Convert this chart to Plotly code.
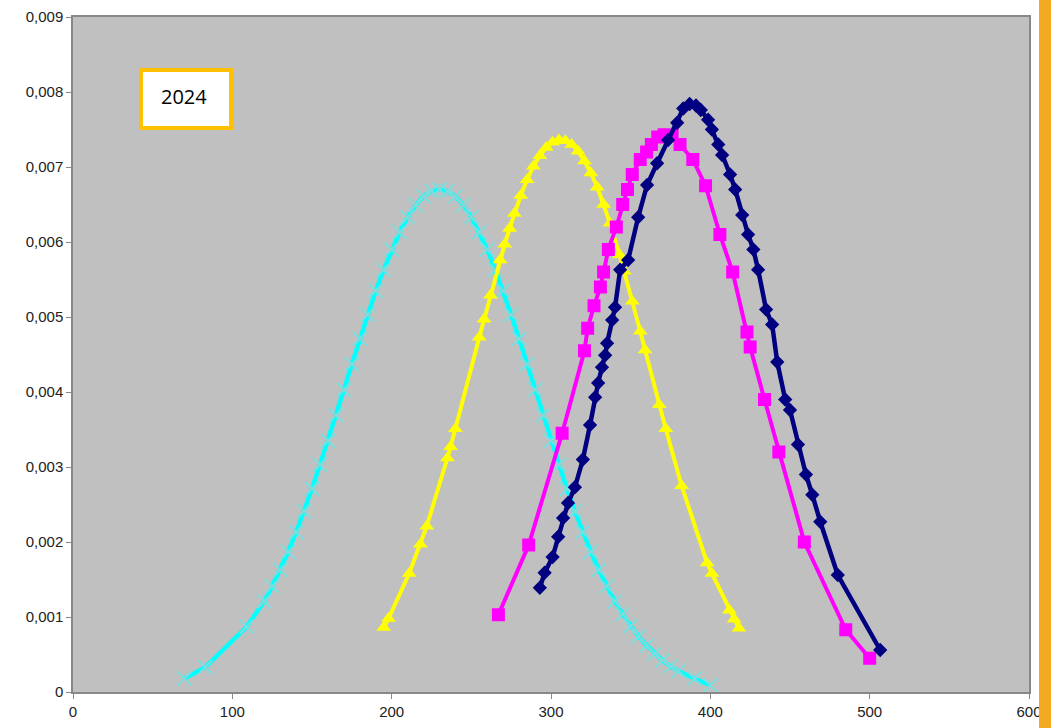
import plotly.graph_objects as go

# ---------------- data ----------------
cyan_x = [70, 83, 109, 120, 125, 130, 135, 140, 145, 150, 155, 160, 165, 170, 175, 180, 185,
          190, 195, 200, 205, 210, 215, 220, 225, 230, 235, 240, 245, 250, 255, 260, 265, 270,
          275, 280, 285, 290, 295, 300, 305, 310, 315, 320, 325, 330, 335, 340, 345, 350, 355,
          360, 365, 370, 375, 380, 390, 400]
cyan_y = [0.00018, 0.00033, 0.00087, 0.00121, 0.00141, 0.00163, 0.00187, 0.00213, 0.00241,
          0.00271, 0.00303, 0.00335, 0.00369, 0.00403, 0.00437, 0.00471, 0.00503, 0.00535,
          0.00563, 0.00590, 0.00613, 0.00633, 0.00649, 0.00661, 0.00668, 0.00670, 0.00668,
          0.00661, 0.00649, 0.00633, 0.00613, 0.00590, 0.00563, 0.00535, 0.00503, 0.00471,
          0.00437, 0.00403, 0.00369, 0.00335, 0.00303, 0.00271, 0.00241, 0.00213, 0.00187,
          0.00163, 0.00141, 0.00121, 0.00104, 0.00088, 0.00074, 0.00062, 0.00051, 0.00042,
          0.00034, 0.00028, 0.00018, 0.00009]

yellow_x = [195, 198, 211, 218, 222, 235, 237, 240, 255, 258, 262, 268, 271, 274, 277, 281,
            285, 289, 293, 297, 301, 305, 309, 313, 317, 321, 325, 329, 333, 337, 343, 346,
            351, 356, 359, 368, 372, 382, 398, 401, 412, 415, 418]
yellow_y = [0.00086, 0.00098, 0.00158, 0.00197, 0.00221, 0.00312, 0.00327, 0.00351, 0.00473,
            0.00497, 0.00529, 0.00576, 0.00597, 0.00618, 0.00638, 0.00662, 0.00683, 0.00701,
            0.00715, 0.00726, 0.00733, 0.00736, 0.00735, 0.00730, 0.00721, 0.00708, 0.00692,
            0.00673, 0.00650, 0.00625, 0.00583, 0.00561, 0.00521, 0.00481, 0.00456, 0.00383,
            0.00351, 0.00275, 0.00172, 0.00158, 0.00109, 0.00097, 0.00085]

magenta_x = [267, 286, 307, 321, 323, 327, 331, 333, 336, 341, 345, 348, 351, 356, 360, 363,
             367, 371, 376, 381, 389, 397, 406, 414, 423, 425, 434, 443, 459, 485, 500]
magenta_y = [0.00103, 0.00196, 0.00345, 0.00455, 0.00485, 0.00515, 0.00540, 0.00560, 0.00590,
             0.00620, 0.00650, 0.00670, 0.00690, 0.00710, 0.00720, 0.00730, 0.00740, 0.00743,
             0.00742, 0.00730, 0.00710, 0.00675, 0.00610, 0.00560, 0.00480, 0.00460, 0.00390,
             0.00320, 0.00200, 0.00083, 0.00045]

navy_x = [293, 296, 301, 304.5, 307.6, 310.7, 315, 320, 324.5, 327.7, 329.6, 332, 334, 335.2,
          338.4, 340.2, 343.4, 348.4, 354.7, 360.3, 366.6, 373.5, 379.2, 383, 387, 391, 394,
          398.6, 401, 405, 407.4, 412.4, 415.6, 420, 423.7, 427, 430, 435, 438.8, 442, 447,
          450, 455, 460, 464, 469, 480, 506.6]
navy_y = [0.00139, 0.00159, 0.00180, 0.00207, 0.00232, 0.00252, 0.00273, 0.00310, 0.00356,
          0.00393, 0.00412, 0.00433, 0.00449, 0.00465, 0.00496, 0.00513, 0.00563, 0.00576,
          0.00633, 0.00676, 0.00705, 0.00736, 0.00759, 0.00778, 0.00784, 0.00782, 0.00776,
          0.00763, 0.00750, 0.00730, 0.00716, 0.00690, 0.00670, 0.00636, 0.00610, 0.00590,
          0.00563, 0.00510, 0.00490, 0.00440, 0.00390, 0.00376, 0.00330, 0.00290, 0.00263,
          0.00227, 0.00156, 0.00056]

y_tickvals = [0, 0.001, 0.002, 0.003, 0.004, 0.005, 0.006, 0.007, 0.008, 0.009]
y_ticktext = ["0", "0,001", "0,002", "0,003", "0,004", "0,005", "0,006", "0,007", "0,008", "0,009"]
x_tickvals = [0, 100, 200, 300, 400, 500, 600]
x_ticktext = ["0", "100", "200", "300", "400", "500", "600"]
year_label = "2024"

# ---------------- figure ----------------
fig = go.Figure()

fig.add_trace(go.Scatter(
    x=cyan_x, y=cyan_y, mode="lines+markers",
    line=dict(color="#00FFFF", width=4.5),
    marker=dict(symbol="x-thin", size=14, color="#80DCDC",
                line=dict(color="#80DCDC", width=2)),
    showlegend=False))

fig.add_trace(go.Scatter(
    x=yellow_x, y=yellow_y, mode="lines+markers",
    line=dict(color="#FFFF00", width=4),
    marker=dict(symbol="triangle-up", size=13, color="#FFFF00"),
    showlegend=False))

fig.add_trace(go.Scatter(
    x=magenta_x, y=magenta_y, mode="lines+markers",
    line=dict(color="#FF00FF", width=4),
    marker=dict(symbol="square", size=13, color="#FF00FF"),
    showlegend=False))

fig.add_trace(go.Scatter(
    x=navy_x, y=navy_y, mode="lines+markers",
    line=dict(color="#000080", width=4.5),
    marker=dict(symbol="diamond", size=11, color="#000080"),
    showlegend=False))

axis_font = dict(family="Liberation Sans, Arial, sans-serif", size=15, color="#222222")

fig.update_layout(
    width=1051, height=728,
    margin=dict(l=73, r=22, t=17, b=36),
    paper_bgcolor="white",
    plot_bgcolor="#C0C0C0",
    xaxis=dict(range=[0, 600], tickvals=x_tickvals, ticktext=x_ticktext,
               showgrid=False, zeroline=False, showline=True, linecolor="#888888",
               linewidth=1.5, mirror=True, ticks="outside", ticklen=5,
               tickcolor="#888888", tickfont=axis_font, automargin=False),
    yaxis=dict(range=[0, 0.009], tickvals=y_tickvals, ticktext=y_ticktext,
               showgrid=False, zeroline=False, showline=True, linecolor="#888888",
               linewidth=1.5, mirror=True, ticks="outside", ticklen=5,
               tickcolor="#888888", tickfont=axis_font, automargin=False),
    shapes=[
        dict(type="rect", xref="paper", yref="paper",
             x0=0.0711, x1=0.1653, y0=0.8356, y1=0.9215,
             fillcolor="white", line=dict(color="#FFC000", width=4), layer="above"),
        dict(type="rect", xref="paper", yref="paper",
             x0=1.0105, x1=1.03, y0=-0.06, y1=1.03,
             fillcolor="#F5A822", line=dict(width=0), layer="above"),
    ],
    annotations=[
        dict(text=year_label, xref="paper", yref="paper", x=0.116, y=0.8815,
             showarrow=False, xanchor="center", yanchor="middle",
             font=dict(family="Open Sans, Liberation Sans, sans-serif", size=20, color="black")),
    ],
)

fig.write_html(
    "out.html",
    config={"displayModeBar": False},
    post_script="document.body.style.margin='0';document.documentElement.style.overflow='hidden';",
)
